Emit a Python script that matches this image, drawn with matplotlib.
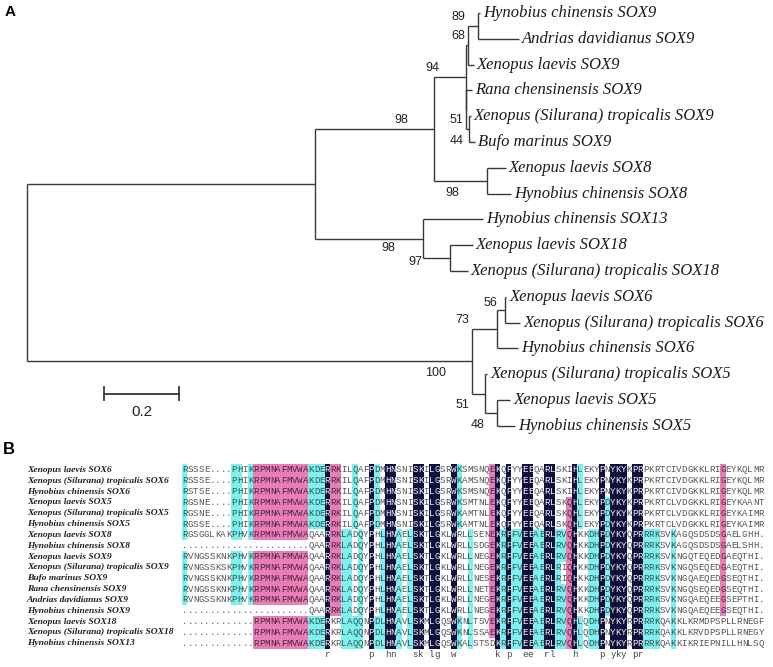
import numpy as np
import matplotlib
matplotlib.use('Agg')
import matplotlib.pyplot as plt
from matplotlib.colors import to_rgb
from matplotlib.transforms import blended_transform_factory

# ---------------- panel A : neighbour joining tree ----------------
tip_names = [
    'Hynobius chinensis SOX9', 'Andrias davidianus SOX9', 'Xenopus laevis SOX9',
    'Rana chensinensis SOX9', 'Xenopus (Silurana) tropicalis SOX9', 'Bufo marinus SOX9',
    'Xenopus laevis SOX8', 'Hynobius chinensis SOX8', 'Hynobius chinensis SOX13',
    'Xenopus laevis SOX18', 'Xenopus (Silurana) tropicalis SOX18', 'Xenopus laevis SOX6',
    'Xenopus (Silurana) tropicalis SOX6', 'Hynobius chinensis SOX6',
    'Xenopus (Silurana) tropicalis SOX5', 'Xenopus laevis SOX5', 'Hynobius chinensis SOX5',
]
t = tip_names

node_children = {
    'root': ['N1', 'N11'],
    'N1': ['N2', 'N9'],
    'N2': ['N3', 'N8'],
    'N3': ['N4', 'N6'],
    'N4': ['N5', t[2]],
    'N5': [t[0], t[1]],
    'N6': [t[3], 'N7'],
    'N7': [t[4], t[5]],
    'N8': [t[6], t[7]],
    'N9': [t[8], 'N10'],
    'N10': [t[9], t[10]],
    'N11': ['N12', 'N14'],
    'N12': ['N13', t[13]],
    'N13': [t[11], t[12]],
    'N14': [t[14], 'N15'],
    'N15': [t[15], t[16]],
}

branch_length = {
    'N1': 0.768, 'N2': 0.317, 'N3': 0.085, 'N4': 0.005, 'N5': 0.029,
    t[0]: 0.005, t[1]: 0.109, t[2]: 0.016, 'N6': 0.001, t[3]: 0.017,
    'N7': 0.007, t[4]: 0.005, t[5]: 0.016, 'N8': 0.141, t[6]: 0.051,
    t[7]: 0.064, 'N9': 0.288, t[8]: 0.160, 'N10': 0.072, t[9]: 0.061,
    t[10]: 0.048, 'N11': 1.187, 'N12': 0.067, 'N13': 0.021, t[11]: 0.003,
    t[12]: 0.040, t[13]: 0.056, 'N14': 0.035, t[14]: 0.005, 'N15': 0.032,
    t[15]: 0.035, t[16]: 0.048,
}

node_support = {
    'N2': 98, 'N3': 94, 'N4': 68, 'N5': 89, 'N6': 44, 'N7': 51, 'N8': 98,
    'N9': 98, 'N10': 97, 'N11': 100, 'N12': 73, 'N13': 56, 'N14': 51, 'N15': 48,
}

scale_length = 0.2

# ---------------- panel B : HMG box alignment ----------------
seq_names = [
    'Xenopus laevis SOX6', 'Xenopus (Silurana) tropicalis SOX6', 'Hynobius chinensis SOX6',
    'Xenopus laevis SOX5', 'Xenopus (Silurana) tropicalis SOX5', 'Hynobius chinensis SOX5',
    'Xenopus laevis SOX8', 'Hynobius chinensis SOX8', 'Xenopus laevis SOX9',
    'Xenopus (Silurana) tropicalis SOX9', 'Bufo marinus SOX9', 'Rana chensinensis SOX9',
    'Andrias davidianus SOX9', 'Hynobius chinensis SOX9', 'Xenopus laevis SOX18',
    'Xenopus (Silurana) tropicalis SOX18', 'Hynobius chinensis SOX13',
]

sequences = [
    'RSSSE....PHIKRPMNAFMVWAKDERRKILQAFPDMHNSNISKILGSRWKSMSNQEKQPYYEEQARLSKIHLEKYPNYKYKPRPKRTCIVDGKKLRIGEYKQLMR',
    'RSSSE....PHIKRPMNAFMVWAKDERRKILQAFPDMHNSNISKILGSRWKAMSNQEKQPYYEEQARLSKIHLEKYPNYKYKPRPKRTCIVDGKKLRIGEYKQLMR',
    'RSTSE....PHIKRPMNAFMVWAKDERRKILQAFPDMHNSNISKILGSRWKSMSNQEKQPYYEEQARLSKIHLEKYPNYKYKPRPKRTCIVDGKKLRIGEYKQLMR',
    'RGSNE....PHIKRPMNAFMVWAKDERRKILQAFPDMHNSNISKILGSRWKSMTNLEKQPYYEEQARLSKQHLEKYPDYKYKPRPKRTCLVDGKKLRIGEYKAANT',
    'RGSNE....PHIKRPMNAFMVWAKDERRKILQAFPDMHNSNISKILGSRWKAMTNLEKQPYYEEQARLSKQHLEKYPDYKYKPRPKRTCLVDGKKLRIGEYKAIMR',
    'RGSSE....PHIKRPMNAFMVWAKDERRKILQAFPDMHNSNISKILGSRWKAMTNLEKQPYYEEQARLSKQHLEKYPDYKYKPRPKRTCLVDGKKLRIGEYKAIMR',
    'RGSGGLKAKPHVKRPMNAFMVWAQAARRKLADQYPHLHNAELSKTLGKLWRLLSENEKRPFVEEAERLRVQHKKDHPDYKYQPRRRKSVKAGQSDSDSGAELGHH.',
    '.......................QAARRKLADQYPHLHNAELSKTLGKLWRLLSDGEKRPFVEEAERLRVQHKKDHPDYKYQPRRRKSVKAGQSDSDSGAELSHH.',
    'RVNGSSKNKPHVKRPMNAFMVWAQAARRKLADQYPHLHNAELSKTLGKLWRLLNEGEKRPFVEEAERLRVQHKKDHPDYKYQPRRRKSVKNGQTEQEDGAEQTHI.',
    'RVNGSSKSKPHVKRPMNAFMVWAQAARRKLADQYPHLHNAELSKTLGKLWRLLNEGEKRPFVEEAERLRIQHKKDHPDYKYQPRRRKSVKNGQSEQEDGAEQTHI.',
    'RVNGSSKNKPHVKRPMNAFMVWAQAARRKLADQYPHLHNAELSKTLGKLWRLLNESEKRPFVEEAERLRIQHKKDHPDYKYQPRRRKSVKNGQAEQEDGSEQTHI.',
    'RVNGSSKNKPHVKRPMNAFMVWAQAARRKLADQYPHLHNAELSKTLGKLWRLLNETEKRPFVEEAERLRVQHKKDHPDYKYQPRRRKSVKNGQSEQEDGSEQTHI.',
    'RVNGSSKNKPHVKRPMNAFMVWAQAARRKLADQYPHLHNAELSKTLGKLWRLLNEGEKRPFVEEAERLRVQHKKDHPDYKYQPRRRKSVKNGQAEQEEGSEPTHI.',
    '.......................QAARRKLADQYPHLHNAELSKTLGKLWRLLNEGEKRPFVEEAERLRVQHKKDHPDYKYQPRRRKSVKNGQAEQEEGSEQTHI.',
    '.............RPMNAFMVWAKDERKRLAQQNPDLHNAVLSKMLGQSWKNLTSVEKRPFVEEAERLRVQHLQDHPNYKYRPRRRKQAKKLKRMDPSPLLRNEGF',
    '.............RPMNAFMVWAKDERKRLAQQNPDLHNAVLSKMLGQSWKNLSSAEKRPFVEEAERLRVQHLQDHPNYKYRPRRRKQAKKLKRVDPSPLLRNEGY',
    '.............RPMNAFMVWAKDERKRLAQQNPDLHNAVLSKMLGQSWKALSTSDKRPFVEEAERLRVQHLQDHPNYKYRPRRRKQAKKIKRIEPNILLHNLSQ',
]

# identity levels used for shading (DNAMAN style)
level_cut = [1.0, 0.75, 0.5]
level_bg = ['#10103e', '#ea7cb8', '#80f0ee']
level_fg = ['#f2f2f2', '#4a2a3c', '#2e5656']


def layout(node, depth, xs, ys, order):
    xs[node] = depth
    if node in node_children:
        kids = node_children[node]
        for ch in kids:
            layout(ch, depth + branch_length[ch], xs, ys, order)
        ys[node] = (ys[kids[0]] + ys[kids[-1]]) / 2.0
    else:
        ys[node] = len(order)
        order.append(node)


def draw_tree(fig):
    ax = fig.add_axes([0, 0, 1, 1])
    ax.axis('off')
    px_unit = 375.0      # pixels per substitution unit
    x0 = 27.0            # root position (px)
    tip_gap = 25.8       # px between tips
    y0 = 13.0            # first tip (px from top)
    ax.set_xlim(-x0 / px_unit, (773 - x0) / px_unit)
    ax.set_ylim((667 - y0) / tip_gap, -y0 / tip_gap)

    xs, ys, order = {}, {}, []
    layout('root', 0.0, xs, ys, order)

    lc = '#383838'
    for node, kids in node_children.items():
        ax.plot([xs[node], xs[node]], [ys[kids[0]], ys[kids[-1]]], color=lc, lw=1.0,
                solid_capstyle='butt')
        for k in kids:
            ax.plot([xs[node], xs[k]], [ys[k], ys[k]], color=lc, lw=1.0,
                    solid_capstyle='butt')

    for tip in order:
        ax.annotate(tip, (xs[tip], ys[tip]), xytext=(3, 0), textcoords='offset pixels',
                    ha='left', va='center', fontsize=12, fontstyle='italic',
                    family='Liberation Serif', color='#1a1a1a')

    # bootstrap label offsets (px, image y downwards)
    offs = {'N2': (-33, -9), 'N3': (-33, -9), 'N5': (-20, -9), 'N4': (-9, -9),
            'N7': (-12, -9), 'N6': (-9.5, 31), 'N8': (-34, 12), 'N9': (-35, 9),
            'N10': (-35, 4), 'N13': (-15, -7), 'N12': (-35, -9), 'N11': (-37, 12),
            'N14': (-23, 11), 'N15': (-20, 12)}
    for node, val in node_support.items():
        dx, dy = offs[node]
        ax.annotate(str(val), (xs[node], ys[node]), xytext=(dx, -dy),
                    textcoords='offset pixels', ha='center', va='center',
                    fontsize=9, family='Liberation Sans', color='#222222')

    # scale bar
    sb_x = (104 - x0) / px_unit
    sb_y = (394 - y0) / tip_gap
    tick = 6.5 / tip_gap
    ax.plot([sb_x, sb_x + scale_length], [sb_y, sb_y], color=lc, lw=1.3)
    for xx in (sb_x, sb_x + scale_length):
        ax.plot([xx, xx], [sb_y - tick, sb_y + tick], color=lc, lw=1.3)
    ax.text(sb_x + scale_length / 2, sb_y + 18 / tip_gap, str(scale_length),
            ha='center', va='center', fontsize=11,
            family=['Liberation Sans Narrow', 'Liberation Sans'], color='#222222')


def draw_alignment(fig):
    ax = fig.add_axes([0, 0, 1, 1])
    ax.axis('off')
    cw = 5.49            # px per residue
    rh = 10.83           # px per row
    xa = 182.0           # first residue (px)
    ya = 470.0           # first row centre (px)

    nrow = len(sequences)
    ncol = len(sequences[0])
    for s in sequences:
        assert len(s) == ncol

    rgb = np.ones((nrow, ncol, 3))
    fg = [['#555555'] * ncol for _ in range(nrow)]
    consensus = []
    for c in range(ncol):
        col = [s[c] for s in sequences]
        res = [a for a in col if a != '.']
        best = max(sorted(set(res)), key=res.count)
        frac = res.count(best) / float(nrow)
        lev = None
        for i, cut in enumerate(level_cut):
            if frac >= cut - 1e-9:
                lev = i
                break
        consensus.append(best.lower() if lev == 0 else ' ')
        if lev is None:
            continue
        for r in range(nrow):
            if col[r] == best:
                rgb[r, c] = to_rgb(level_bg[lev])
                fg[r][c] = level_fg[lev]

    ax.imshow(rgb, extent=(0, ncol, nrow - 0.5, -0.5), origin='upper',
              aspect='auto', interpolation='nearest')
    ax.set_xlim(-xa / cw, (773 - xa) / cw)
    ax.set_ylim((667 - ya) / rh, -ya / rh)

    for r, s in enumerate(sequences):
        for c, ch in enumerate(s):
            ax.text(c + 0.5, r, ch, ha='center', va='center', fontsize=6.6,
                    family='Liberation Mono', color=fg[r][c])
    for c, ch in enumerate(consensus):
        if ch != ' ':
            ax.text(c + 0.5, nrow, ch, ha='center', va='center', fontsize=6.6,
                    family='Liberation Mono', color='#444444')

    tr = blended_transform_factory(fig.transFigure, ax.transData)
    for r, name in enumerate(seq_names):
        ax.text(27 / 773.0, r, name, transform=tr, ha='left', va='center',
                fontsize=6.8, fontweight='bold', fontstyle='italic',
                family='Liberation Serif', color='#222222')


def main():
    fig = plt.figure(figsize=(7.73, 6.67), dpi=100)
    fig.patch.set_facecolor('white')
    draw_tree(fig)
    draw_alignment(fig)
    fig.text(10 / 773.0, 1 - 12 / 667.0, 'A', ha='center', va='center',
             fontsize=11, fontweight='bold', family='Liberation Sans')
    fig.text(9 / 773.0, 1 - 449 / 667.0, 'B', ha='center', va='center',
             fontsize=12, fontweight='bold', family='Liberation Sans')
    fig.savefig('out.png', dpi=100)


if __name__ == '__main__':
    main()
